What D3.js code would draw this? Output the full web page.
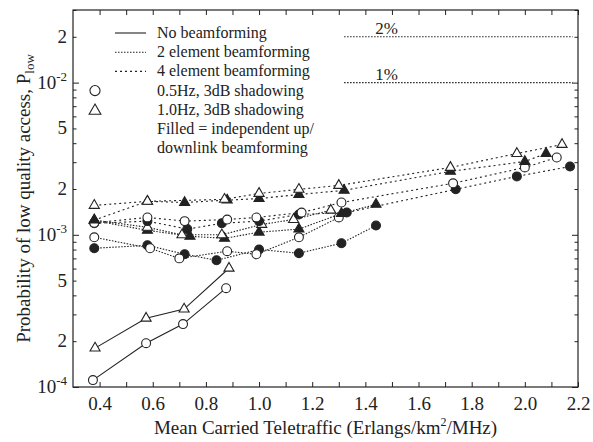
<!DOCTYPE html>
<html lang="en">
<head>
<meta charset="UTF-8">
<title>Plow vs teletraffic</title>
<script src="https://cdn.jsdelivr.net/npm/d3@7"></script>
<style>
  body { margin: 0; background: #fff; }
  text { font-family: "Liberation Serif", "Times New Roman", serif; fill: #222; }
</style>
</head>
<body>
<svg></svg>
<script>
// tick labels
const xTicks = [0.4, 0.6, 0.8, 1.0, 1.2, 1.4, 1.6, 1.8, 2.0, 2.2];
const yLabelTicks = [1e-4, 2e-4, 5e-4, 1e-3, 2e-3, 5e-3, 1e-2, 2e-2];

// no beamforming (solid)
const noBfCircX = [0.375, 0.575, 0.714, 0.876];
const noBfCircY = [1.11e-4, 1.94e-4, 2.59e-4, 4.46e-4];
const noBfTriX  = [0.383, 0.575, 0.718, 0.887];
const noBfTriY  = [1.80e-4, 2.83e-4, 3.25e-4, 6.03e-4];

// 4 element beamforming
const el4OpenTriX = [0.38, 0.58, 0.87, 1.0, 1.15, 1.30, 1.72, 1.97, 2.14];
const el4OpenTriY = [1.56e-3, 1.66e-3, 1.71e-3, 1.87e-3, 1.99e-3, 2.11e-3, 2.77e-3, 3.42e-3, 3.92e-3];
const el4FillTriX = [0.38, 0.58, 0.72, 0.88, 1.0, 1.15, 1.32, 1.72, 2.0, 2.08];
const el4FillTriY = [1.25e-3, 1.66e-3, 1.63e-3, 1.69e-3, 1.73e-3, 1.84e-3, 1.96e-3, 2.61e-3, 3.03e-3, 3.42e-3];
const el4OpenCircX = [0.38, 0.58, 0.72, 0.88, 0.99, 1.16, 1.31, 1.73, 2.0, 2.12];
const el4OpenCircY = [1.20e-3, 1.30e-3, 1.23e-3, 1.26e-3, 1.30e-3, 1.40e-3, 1.63e-3, 2.18e-3, 2.77e-3, 3.22e-3];
const el4FillCircX = [0.38, 0.58, 0.73, 0.86, 1.0, 1.15, 1.33, 1.74, 1.97, 2.17];
const el4FillCircY = [1.19e-3, 1.23e-3, 1.09e-3, 1.19e-3, 1.23e-3, 1.36e-3, 1.40e-3, 1.99e-3, 2.42e-3, 2.81e-3];

// 2 element beamforming
const el2OpenTriX = [0.38, 0.58, 0.71, 0.86, 1.01, 1.13, 1.27];
const el2OpenTriY = [1.25e-3, 1.12e-3, 1.00e-3, 1.00e-3, 1.17e-3, 1.26e-3, 1.45e-3];
const el2FillTriX = [0.38, 0.58, 0.74, 0.87, 1.0, 1.15, 1.31, 1.44];
const el2FillTriY = [1.24e-3, 1.07e-3, 0.978e-3, 0.948e-3, 1.04e-3, 1.09e-3, 1.38e-3, 1.585e-3];
const el2OpenCircX = [0.38, 0.59, 0.70, 0.88, 0.99, 1.15, 1.30];
const el2OpenCircY = [0.963e-3, 0.816e-3, 0.70e-3, 0.78e-3, 0.745e-3, 0.963e-3, 1.30e-3];
const el2FillCircX = [0.38, 0.58, 0.72, 0.84, 1.0, 1.15, 1.31, 1.44];
const el2FillCircY = [0.816e-3, 0.853e-3, 0.745e-3, 0.68e-3, 0.80e-3, 0.757e-3, 0.88e-3, 1.15e-3];

const refLevels = [2e-2, 1e-2];
const refLabels = ["2%", "1%"];

const legendLabels = ["No beamforming", "2 element beamforming", "4 element beamforming",
  "0.5Hz, 3dB shadowing", "1.0Hz, 3dB shadowing", "Filled = independent up/", "downlink beamforming"];

const W = 593, H = 442;
const m = {left: 73, right: 15, top: 10, bottom: 55};
const ink = "#222";
const dots2 = "1.5,1.5", dots4 = "2,3";

const svg = d3.select("svg").attr("width", W).attr("height", H);

const x = d3.scaleLinear().domain([0.3, 2.2]).range([m.left, W - m.right]);
const y = d3.scaleLog().domain([1e-4, 3e-2]).range([H - m.bottom, m.top]);

// frame
svg.append("rect")
  .attr("x", x.range()[0]).attr("y", y.range()[1])
  .attr("width", x.range()[1] - x.range()[0])
  .attr("height", y.range()[0] - y.range()[1])
  .attr("fill", "none").attr("stroke", ink).attr("stroke-width", 1.2);

// x ticks, inward on top and bottom
const xMinor = d3.range(4, 23).map(d => d / 10);
const xBottom = svg.append("g").attr("transform", `translate(0,${y.range()[0]})`)
  .call(d3.axisBottom(x).tickValues(xMinor).tickSizeInner(-5).tickSizeOuter(0).tickPadding(10)
    .tickFormat(d => xTicks.some(t => Math.abs(t - d) < 1e-9) ? d3.format(".1f")(d) : ""));
xBottom.select(".domain").remove();
xBottom.selectAll("line").attr("stroke", ink);
xBottom.selectAll("text").style("font-size", "19px").attr("fill", ink).attr("font-family", null);

const xTop = svg.append("g").attr("transform", `translate(0,${y.range()[1]})`)
  .call(d3.axisTop(x).tickValues(xMinor).tickSizeInner(-5).tickSizeOuter(0).tickFormat(""));
xTop.select(".domain").remove();
xTop.selectAll("line").attr("stroke", ink);

// y ticks, inward on left and right
const yMinor = [];
[1e-4, 1e-3, 1e-2].forEach(dec => d3.range(1, 10).forEach(k => {
  const v = dec * k; if (v <= 3e-2) yMinor.push(v);
}));
const isDecade = v => Math.abs(Math.log10(v) - Math.round(Math.log10(v))) < 1e-9;
[["left", d3.axisLeft, x.range()[0]], ["right", d3.axisRight, x.range()[1]]]
  .forEach(([side, fn, px]) => {
    const g = svg.append("g").attr("transform", `translate(${px},0)`)
      .call(fn(y).tickValues(yMinor).tickSizeOuter(0).tickFormat(""));
    g.select(".domain").remove();
    g.selectAll(".tick line")
      .attr("x2", d => (side === "left" ? 1 : -1) * (isDecade(d) ? 6 : 3.5))
      .attr("stroke", ink);
  });

// y tick labels
const yl = svg.append("g").attr("text-anchor", "end").style("font-size", "19px");
yLabelTicks.forEach(v => {
  const t = yl.append("text").attr("x", x.range()[0] - 6).attr("y", y(v) + 6);
  if (isDecade(v)) {
    t.append("tspan").text("10");
    t.append("tspan").attr("dy", -8).style("font-size", "13px").text(String(Math.round(Math.log10(v))));
  } else {
    t.text(String(Math.round(v / Math.pow(10, Math.floor(Math.log10(v))))));
  }
});

// axis titles
svg.append("text").attr("x", (x.range()[0] + x.range()[1]) / 2).attr("y", H - 8)
  .attr("text-anchor", "middle").style("font-size", "19px")
  .call(t => {
    t.append("tspan").text("Mean Carried Teletraffic (Erlangs/km");
    t.append("tspan").attr("dy", -8).style("font-size", "12px").text("2");
    t.append("tspan").attr("dy", 8).text("/MHz)");
  });
svg.append("text")
  .attr("transform", `translate(30,${(y.range()[0] + y.range()[1]) / 2}) rotate(-90)`)
  .attr("text-anchor", "middle").style("font-size", "19px")
  .call(t => {
    t.append("tspan").text("Probability of low quality access, P");
    t.append("tspan").attr("dy", 4).style("font-size", "13px").text("low");
  });

// reference levels
refLevels.forEach((v, i) => {
  svg.append("line").attr("x1", x(1.32)).attr("x2", x(2.18))
    .attr("y1", y(v)).attr("y2", y(v))
    .attr("stroke", ink).attr("stroke-width", 1.1).attr("stroke-dasharray", dots2);
  svg.append("text").attr("x", x(1.48)).attr("y", y(v) - 3)
    .attr("text-anchor", "middle").style("font-size", "17px").text(refLabels[i]);
});

// series
const zip = (xs, ys) => xs.map((d, i) => ({x: d, y: ys[i]}));
const series = [
  {pts: zip(noBfCircX, noBfCircY), dash: null, shape: "circle", fill: false},
  {pts: zip(noBfTriX, noBfTriY), dash: null, shape: "triangle", fill: false},
  {pts: zip(el2FillCircX, el2FillCircY), dash: dots2, shape: "circle", fill: true},
  {pts: zip(el2OpenCircX, el2OpenCircY), dash: dots2, shape: "circle", fill: false},
  {pts: zip(el2FillTriX, el2FillTriY), dash: dots2, shape: "triangle", fill: true},
  {pts: zip(el2OpenTriX, el2OpenTriY), dash: dots2, shape: "triangle", fill: false},
  {pts: zip(el4FillCircX, el4FillCircY), dash: dots4, shape: "circle", fill: true},
  {pts: zip(el4OpenCircX, el4OpenCircY), dash: dots4, shape: "circle", fill: false},
  {pts: zip(el4FillTriX, el4FillTriY), dash: dots4, shape: "triangle", fill: true},
  {pts: zip(el4OpenTriX, el4OpenTriY), dash: dots4, shape: "triangle", fill: false},
];

const line = d3.line().x(d => x(d.x)).y(d => y(d.y));
const sym = {
  circle: d3.symbol().type(d3.symbolCircle).size(62),
  triangle: d3.symbol().type(d3.symbolTriangle).size(44)
};

series.forEach(s => {
  svg.append("path").datum(s.pts).attr("d", line)
    .attr("fill", "none").attr("stroke", ink).attr("stroke-width", 1.1)
    .attr("stroke-dasharray", s.dash);
});
series.forEach(s => {
  svg.append("g").selectAll("path").data(s.pts).join("path")
    .attr("transform", d => `translate(${x(d.x)},${y(d.y)})`)
    .attr("d", sym[s.shape])
    .attr("fill", s.fill ? ink : "#fff")
    .attr("stroke", ink).attr("stroke-width", 1.1);
});

// legend
const lg = svg.append("g").style("font-size", "16px");
const rowY = i => 33 + i * 19.2;
legendLabels.forEach((txt, i) => {
  lg.append("text").attr("x", 157).attr("y", rowY(i) + 5).text(txt);
});
[null, dots2, dots4].forEach((dash, i) => {
  lg.append("line").attr("x1", 115).attr("x2", 146).attr("y1", rowY(i)).attr("y2", rowY(i))
    .attr("stroke", ink).attr("stroke-width", 1.1).attr("stroke-dasharray", dash);
});
lg.append("path").attr("transform", `translate(95,${rowY(3)})`)
  .attr("d", d3.symbol().type(d3.symbolCircle).size(80)())
  .attr("fill", "#fff").attr("stroke", ink).attr("stroke-width", 1.1);
lg.append("path").attr("transform", `translate(95,${rowY(4) + 1})`)
  .attr("d", d3.symbol().type(d3.symbolTriangle).size(60)())
  .attr("fill", "#fff").attr("stroke", ink).attr("stroke-width", 1.1);
</script>
</body>
</html>
